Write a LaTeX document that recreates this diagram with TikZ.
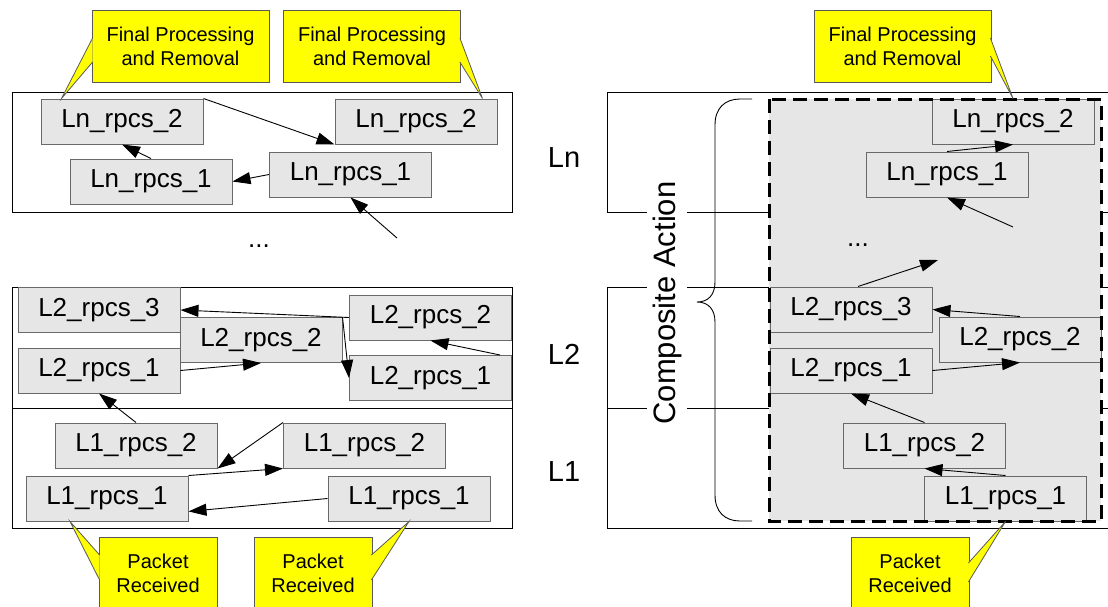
\documentclass[tikz,border=0pt]{standalone}
\usepackage{fontspec}
\setmainfont{Liberation Sans}
\usepackage{tikz}
\usetikzlibrary{arrows.meta,calc}
\definecolor{boxgray}{RGB}{230,230,230}
\definecolor{edgegray}{RGB}{105,105,105}
\definecolor{noteyellow}{RGB}{255,255,0}
\tikzstyle{rpcs} = [rectangle, draw=edgegray, fill=boxgray, line width=1pt,
    minimum width=162pt, minimum height=45pt, inner sep=0pt, font=\fontsize{26}{30}\selectfont]
\tikzstyle{note} = [rectangle, draw=black!65, fill=noteyellow, line width=0.8pt,
    minimum width=177pt, minimum height=72pt, inner sep=0pt, align=center, font=\fontsize{20}{24}\selectfont]
\tikzstyle{pnote} = [note, minimum width=118pt]
\tikzstyle{pointer} = [fill=noteyellow, draw=black!65, line width=0.8pt]
\tikzstyle{line} = [draw, line width=0.9pt, -{Triangle[length=18pt,width=12pt]}]
\tikzstyle{level} = [font=\fontsize{29}{33}\selectfont]
\tikzstyle{frame} = [draw, line width=1pt]

\begin{document}
\begin{tikzpicture}[x=1pt, y=-1pt]
    \clip (0,0) rectangle (1108,606);
    % Level frames
    \draw[frame] (12,92) rectangle (512,212);
    \draw[frame] (12,287) rectangle (512,528);
    \draw[frame] (12,408) -- (512,408);
    \draw[frame] (607,92) rectangle (1130,212);
    \draw[frame] (607,287) rectangle (1130,528);
    \draw[frame] (607,408) -- (1130,408);
    \fill[boxgray] (769,99) rectangle (1101,521);

    % Composite action brace
    \node[rotate=90, fill=white, inner sep=6pt, font=\fontsize{31}{35}\selectfont] (comp) at (667,303) {Composite Action};
    \draw[line width=0.9pt] (752,99) -- (740,99) .. controls (725,99) and (715,108) .. (715,125) -- (715,282)
        .. controls (715,295) and (708,302) .. (697,302) .. controls (708,302) and (715,309) .. (715,322)
        -- (715,495) .. controls (715,512) and (725,521) .. (740,521) -- (752,521);

    % Place nodes
    \node[level] (lvN) at (564,158) {Ln};
    \node[level] (lvTwo) at (564,354) {L2};
    \node[level] (lvOne) at (564,472) {L1};
    \node[font=\fontsize{26}{30}\selectfont] (dotsL) at (259,246) {...};
    \node[font=\fontsize{26}{30}\selectfont] (dotsR) at (858,245) {...};

    \node[rpcs] (lnTwoA) at (122,121.5) {Ln\_rpcs\_2};
    \node[rpcs] (lnTwoB) at (416,121.5) {Ln\_rpcs\_2};
    \node[rpcs] (lnOneA) at (151,181.5) {Ln\_rpcs\_1};
    \node[rpcs] (lnOneB) at (350.5,174.5) {Ln\_rpcs\_1};
    \node[rpcs] (ltwoThree) at (99,310) {L2\_rpcs\_3};
    \node[rpcs] (ltwoTwoA) at (261,340) {L2\_rpcs\_2};
    \node[rpcs] (ltwoTwoB) at (430.5,317.5) {L2\_rpcs\_2};
    \node[rpcs] (ltwoOneA) at (99,370.5) {L2\_rpcs\_1};
    \node[rpcs] (ltwoOneB) at (430.5,378) {L2\_rpcs\_1};
    \node[rpcs] (loneTwoA) at (136,445.5) {L1\_rpcs\_2};
    \node[rpcs] (loneTwoB) at (364.5,445.5) {L1\_rpcs\_2};
    \node[rpcs] (loneOneA) at (107,498.5) {L1\_rpcs\_1};
    \node[rpcs] (loneOneB) at (409,498.5) {L1\_rpcs\_1};

    \node[rpcs] (rLnTwo) at (1013,121.5) {Ln\_rpcs\_2};
    \node[rpcs] (rLnOne) at (947,174.5) {Ln\_rpcs\_1};
    \node[rpcs] (rLtwoThree) at (851,309.5) {L2\_rpcs\_3};
    \node[rpcs] (rLtwoTwo) at (1020,339.5) {L2\_rpcs\_2};
    \node[rpcs] (rLtwoOne) at (851,370.5) {L2\_rpcs\_1};
    \node[rpcs] (rLoneTwo) at (924.5,445.5) {L1\_rpcs\_2};
    \node[rpcs] (rLoneOne) at (1005.5,498.5) {L1\_rpcs\_1};

    \coordinate (lnIn) at (397,238);
    \coordinate (rLnIn) at (1013,227);
    \coordinate (rLtwoUp) at (938,260);

    \path [line] (lnTwoA.north east) -- (lnTwoB.south west);
    \path [line] (lnOneA.north) -- (lnTwoA.south);
    \path [line] (lnOneB.west) -- (lnOneA.east);
    \path [line] (lnIn) -- (lnOneB.south);
    \path [line] (ltwoTwoB.west) -- (ltwoThree.east);
    \path [line] (ltwoOneA.east) -- (ltwoTwoA.south);
    \path [line] (ltwoTwoA.north east) -- (ltwoOneB.west);
    \path [line] ($(ltwoOneB.north east)+(-12,0)$) -- (ltwoTwoB.south);
    \path [line] (loneTwoA.north) -- (ltwoOneA.south);
    \path [line] (loneTwoB.north west) -- (loneTwoA.south east);
    \path [line] (loneOneA.north east) -- (loneTwoB.south west);
    \path [line] (loneOneB.west) -- (loneOneA.-9);

    \path [line] (rLnOne.north) -- (rLnTwo.south);
    \path [line] (rLnIn) -- (rLnOne.south);
    \path [line] ($(rLtwoThree.north)+(7,0)$) -- (rLtwoUp);
    \path [line] (rLtwoTwo.north) -- (rLtwoThree.east);
    \path [line] (rLtwoOne.east) -- (rLtwoTwo.south);
    \path [line] (rLoneTwo.north) -- (rLtwoOne.south);
    \path [line] (rLoneOne.north) -- (rLoneTwo.south);

    \draw[line width=3pt, dash pattern=on 14pt off 7pt] (769,99) rectangle (1101,521);

    % Callouts
    \node[note] (fpA) at (180.5,46) {Final Processing\\and Removal};
    \node[note] (fpB) at (372,46) {Final Processing\\and Removal};
    \node[note] (fpC) at (902.5,46) {Final Processing\\and Removal};
    \node[pnote] (prA) at (158,573) {Packet\\Received};
    \node[pnote] (prB) at (313,573) {Packet\\Received};
    \node[pnote] (prC) at (910,573) {Packet\\Received};

    \filldraw[pointer] ($(fpA.west)+(1,-8)$) -- ($(lnTwoA.north west)+(21,0)$) -- ($(fpA.west)+(1,16)$);
    \filldraw[pointer] ($(fpB.east)+(-1,-8)$) -- ($(lnTwoB.north east)+(-15,0)$) -- ($(fpB.east)+(-1,16)$);
    \filldraw[pointer] ($(fpC.east)+(-1,-8)$) -- (rLnTwo.north) -- ($(fpC.east)+(-1,10)$);
    \filldraw[pointer] ($(prA.west)+(1,-18)$) -- ($(loneOneA.south)+(-37,0)$) -- ($(prA.west)+(1,7)$);
    \filldraw[pointer] ($(prB.east)+(-1,-18)$) -- (loneOneB.south) -- ($(prB.east)+(-1,7)$);
    \filldraw[pointer] ($(prC.east)+(-1,-10)$) -- (rLoneOne.south) -- ($(prC.east)+(-1,9)$);
\end{tikzpicture}
\end{document}
